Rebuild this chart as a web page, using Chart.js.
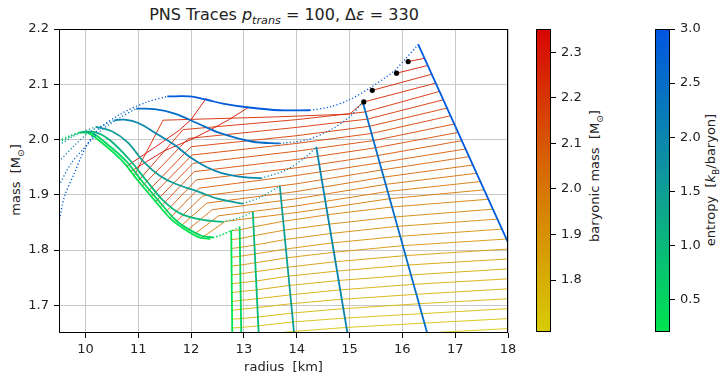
<!DOCTYPE html>
<html>
<head>
<meta charset="utf-8">
<script src="https://cdn.jsdelivr.net/npm/chart.js@4.4.1/dist/chart.umd.min.js"></script>
<style>
  body { margin: 0; background: #fff; width: 722px; height: 375px; position: relative; overflow: hidden;
         font-family: 'DejaVu Sans', sans-serif; color: #222; }
  canvas { position: absolute; top: 0; }
  .lbl { position: absolute; white-space: nowrap; font-size: 13px; transform: translate(-50%, -50%) rotate(-90deg); }
  #title { position: absolute; left: 284px; top: 5px; transform: translateX(-50%); font-size: 16px; white-space: nowrap; }
  sub { font-size: 70%; }
</style>
</head>
<body>
<div id="title">PNS Traces <i>p</i><sub><i>trans</i></sub> = 100, Δ<i>ε</i> = 330</div>
<div class="lbl" style="left:17px; top:180px">mass&nbsp;&nbsp;[M<sub>⊙</sub>]</div>
<div class="lbl" style="left:596px; top:176px">baryonic mass&nbsp;&nbsp;[M<sub>⊙</sub>]</div>
<div class="lbl" style="left:712px; top:180px">entropy&nbsp;&nbsp;[<i>k</i><sub>B</sub>/baryon]</div>
<canvas id="main" width="530" height="375" style="left:0"></canvas>
<canvas id="cbMass" width="60" height="375" style="left:536px"></canvas>
<canvas id="cbEntropy" width="60" height="375" style="left:655px"></canvas>
<script>
// axes
const xTicks = [10, 11, 12, 13, 14, 15, 16, 17, 18];
const yTicks = [1.7, 1.8, 1.9, 2.0, 2.1, 2.2];
const massTicks = [1.8, 1.9, 2.0, 2.1, 2.2, 2.3];
const entropyTicks = [0.5, 1.0, 1.5, 2.0, 2.5, 3.0];
const massRange = [1.686, 2.351];
const entropyRange = [0.2, 3.0];

// entropy tracks (top = highest entropy)
const trackEntropy = [2.9, 2.5, 2.0, 1.5, 1.0, 0.5, 0.2];
const trackDotLeft = [
  [[9.5,1.85],[9.6,1.896],[9.79,1.939],[10.0,1.985],[10.23,2.017],[10.68,2.047],[11.17,2.068],[11.55,2.078]],
  [[9.5,1.917],[9.73,1.957],[10.0,1.987],[10.3,2.017],[10.68,2.041],[10.96,2.056]],
  [[9.5,1.96],[9.8,1.99],[10.1,2.015],[10.55,2.035]],
  [[9.5,1.99],[9.75,2.005],[10.0,2.016],[10.2,2.023]],
  [[9.5,1.995],[9.75,2.007],[9.95,2.014]],
  [[9.5,1.997],[9.75,2.008],[9.92,2.013]],
  [[9.5,1.998],[9.75,2.009],[9.88,2.013]]
];
const trackSolid = [
  [[11.55,2.078],[11.97,2.078],[12.3,2.072],[12.6,2.065],[13.1,2.058],[13.68,2.053],[14.25,2.053]],
  [[10.96,2.056],[11.31,2.055],[11.69,2.047],[12.13,2.029],[12.57,2.011],[13.17,1.996],[13.68,1.993]],
  [[10.55,2.035],[10.74,2.036],[11.0,2.03],[11.34,2.011],[11.69,1.99],[11.97,1.969],[12.3,1.95],[12.6,1.939],[13.0,1.932],[13.33,1.93]],
  [[10.2,2.023],[10.5,2.015],[10.8,1.995],[11.1,1.96],[11.4,1.935],[11.7,1.92],[12.16,1.905],[12.5,1.893],[12.98,1.884]],
  [[9.95,2.014],[10.2,2.013],[10.45,2.0],[10.84,1.963],[11.16,1.925],[11.47,1.89],[11.8,1.866],[12.2,1.855],[12.6,1.851]],
  [[9.92,2.013],[10.12,2.012],[10.37,1.995],[10.75,1.963],[11.07,1.925],[11.38,1.89],[11.67,1.858],[11.88,1.842],[12.2,1.826],[12.42,1.823]],
  [[9.88,2.013],[10.05,2.012],[10.3,1.995],[10.68,1.963],[11.0,1.925],[11.31,1.89],[11.6,1.858],[11.81,1.842],[12.13,1.824],[12.35,1.82]]
];
const trackDotRight = [
  [[14.25,2.053],[14.63,2.059],[15.0,2.072],[15.38,2.093],[15.83,2.123],[16.05,2.145],[16.3,2.172]],
  [[13.68,1.993],[14.18,1.999],[14.63,2.017],[15.0,2.041],[15.25,2.068]],
  [[13.33,1.93],[13.8,1.945],[14.18,1.969],[14.37,1.987]],
  [[12.98,1.884],[13.3,1.895],[13.68,1.916]],
  [[12.6,1.851],[12.9,1.858],[13.17,1.869]],
  [[12.42,1.823],[12.7,1.832],[12.92,1.842]],
  [[12.35,1.82],[12.55,1.826],[12.76,1.836]]
];
const trackDrop = [
  [[16.3,2.172],[17.4,1.94],[18.0,1.814]],
  [[15.25,2.068],[16.47,1.65]],
  [[14.37,1.987],[14.96,1.65]],
  [[13.68,1.916],[13.95,1.65]],
  [[13.17,1.869],[13.28,1.65]],
  [[12.92,1.842],[12.95,1.65]],
  [[12.76,1.836],[12.78,1.65]]
];

// constant baryonic mass lines
const massValues = [2.34, 2.32, 2.30, 2.28, 2.26, 2.24, 2.22, 2.20, 2.18, 2.16, 2.14, 2.12, 2.10, 2.08,
  2.06, 2.04, 2.02, 2.00, 1.98, 1.96, 1.94, 1.92, 1.90, 1.88, 1.86, 1.84, 1.82, 1.80, 1.78, 1.76, 1.74, 1.72, 1.70];
const massLines = [
  [[10.77,1.951],[11.3,1.985],[11.78,2.017],[12.0,2.036],[12.29,2.075]],
  [[10.85,1.942],[11.5,1.98],[12.0,2.0],[12.35,2.017],[12.7,2.035],[13.1,2.059]],
  [[16.11,2.141],[16.42,2.147]],
  [[15.89,2.12],[16.48,2.134]],
  [[15.43,2.089],[16.55,2.118]],
  [[10.92,1.934],[11.47,2.035],[13.6,2.041],[15.0,2.046],[15.27,2.068],[16.63,2.102]],
  [[11.0,1.925],[11.85,2.018],[14.0,2.036],[15.30,2.05],[16.70,2.087]],
  [[11.08,1.916],[11.95,2.002],[14.0,2.022],[15.34,2.037],[16.78,2.072]],
  [[11.17,1.905],[12.0,1.987],[14.0,2.007],[15.38,2.024],[16.85,2.057]],
  [[11.25,1.897],[12.02,1.972],[14.0,1.993],[15.42,2.011],[16.91,2.043]],
  [[11.33,1.888],[12.04,1.957],[14.0,1.979],[15.45,1.998],[16.98,2.028]],
  [[11.42,1.878],[12.06,1.942],[14.0,1.964],[15.49,1.985],[17.06,2.013]],
  [[11.51,1.868],[12.1,1.927],[14.0,1.949],[15.53,1.971],[17.13,1.998]],
  [[11.6,1.858],[12.15,1.912],[14.0,1.935],[15.57,1.958],[17.2,1.983]],
  [[11.7,1.85],[12.22,1.898],[14.0,1.92],[15.61,1.945],[17.26,1.969]],
  [[11.8,1.843],[12.3,1.885],[14.0,1.906],[15.65,1.932],[17.34,1.954]],
  [[11.92,1.835],[12.4,1.873],[14.0,1.893],[15.69,1.919],[17.41,1.939]],
  [[12.05,1.828],[12.52,1.862],[14.0,1.88],[15.72,1.906],[17.48,1.924]],
  [[12.2,1.822],[12.65,1.852],[14.0,1.868],[15.76,1.893],[17.55,1.909]],
  [[12.77,1.835],[12.94,1.837],[13.18,1.842],[13.74,1.852],[14.59,1.864],[15.80,1.878],[17.63,1.892]],
  [[12.77,1.819],[12.94,1.821],[13.19,1.826],[13.76,1.836],[14.62,1.847],[15.86,1.860],[17.72,1.874]],
  [[12.77,1.803],[12.94,1.805],[13.20,1.809],[13.78,1.819],[14.64,1.830],[15.91,1.843],[17.80,1.856]],
  [[12.77,1.787],[12.94,1.789],[13.21,1.793],[13.80,1.802],[14.67,1.813],[15.96,1.825],[17.89,1.838]],
  [[12.77,1.771],[12.94,1.773],[13.22,1.777],[13.81,1.786],[14.70,1.796],[16.01,1.808],[17.97,1.820]],
  [[12.77,1.755],[12.94,1.757],[13.22,1.761],[13.83,1.769],[14.73,1.779],[16.06,1.790],[18,1.802]],
  [[12.77,1.739],[12.94,1.741],[13.23,1.744],[13.85,1.753],[14.76,1.762],[16.11,1.773],[18,1.784]],
  [[12.77,1.723],[12.94,1.725],[13.24,1.728],[13.86,1.736],[14.79,1.745],[16.16,1.755],[18,1.766]],
  [[12.77,1.707],[12.94,1.709],[13.25,1.712],[13.88,1.719],[14.82,1.728],[16.21,1.738],[18,1.748]],
  [[12.77,1.691],[12.94,1.693],[13.26,1.696],[13.90,1.703],[14.85,1.711],[16.27,1.720],[18,1.730]],
  [[12.77,1.675],[12.94,1.676],[13.27,1.679],[13.91,1.686],[14.88,1.694],[16.32,1.703],[18,1.712]],
  [[12.77,1.659],[12.94,1.660],[13.27,1.663],[13.93,1.670],[14.91,1.677],[16.37,1.685],[18,1.694]],
  [[12.77,1.643],[12.94,1.644],[13.28,1.647],[13.95,1.653],[14.94,1.660],[16.42,1.668],[18,1.676]],
  [[12.77,1.627],[12.94,1.628],[13.29,1.631],[13.96,1.636],[14.97,1.643],[16.47,1.650],[18,1.658]]
];

// black markers
const dotX = [15.27, 15.43, 15.89, 16.11];
const dotY = [2.068, 2.089, 2.12, 2.141];

// colour maps
const massStops = [[0, [215, 205, 5]], [0.47, [215, 118, 5]], [1, [215, 5, 0]]];
const entropyStops = [[0, [0, 228, 80]], [0.46, [15, 158, 148]], [1, [0, 85, 225]]];

function interp(stops, t) {
  t = Math.max(0, Math.min(1, t));
  for (let i = 1; i < stops.length; i++) {
    if (t <= stops[i][0]) {
      const [t0, c0] = stops[i - 1], [t1, c1] = stops[i];
      const f = (t - t0) / (t1 - t0);
      return c0.map((v, k) => Math.round(v + (c1[k] - v) * f));
    }
  }
  return stops[stops.length - 1][1];
}
const massColor = (v, a = 1) => { const c = interp(massStops, (v - massRange[0]) / (massRange[1] - massRange[0])); return `rgba(${c[0]},${c[1]},${c[2]},${a})`; };
const entropyColor = (v, a = 1) => { const c = interp(entropyStops, (v - entropyRange[0]) / (entropyRange[1] - entropyRange[0])); return `rgba(${c[0]},${c[1]},${c[2]},${a})`; };

const font = { family: 'DejaVu Sans', size: 13 };

// black box round the plot area, like matplotlib spines
const frame = {
  id: 'frame',
  afterDraw(chart) {
    const { ctx, chartArea: a } = chart;
    ctx.save();
    ctx.strokeStyle = '#000';
    ctx.lineWidth = 1;
    ctx.strokeRect(Math.round(a.left) + 0.5, Math.round(a.top) + 0.5, Math.round(a.right - a.left) - 1, Math.round(a.bottom - a.top) - 1);
    ctx.restore();
  }
};

function lineDs(pts, color, width, dash, order, tension = 0) {
  return {
    data: pts.map(p => ({ x: p[0], y: p[1] })),
    showLine: true, borderColor: color, borderWidth: width, borderDash: dash,
    pointRadius: 0, tension: tension, fill: false, order: order
  };
}

const datasets = [];
datasets.push({
  data: dotX.map((x, i) => ({ x: x, y: dotY[i] })),
  pointRadius: 2.6, backgroundColor: '#000', borderWidth: 0, order: 0
});
trackEntropy.forEach((s, i) => {
  const col = entropyColor(s);
  datasets.push(lineDs(trackDotLeft[i], col, 1.3, [1.2, 2.2], 1, 0.3));
  datasets.push(lineDs(trackSolid[i], col, 1.8, [], 1, 0.35));
  datasets.push(lineDs(trackDotRight[i], col, 1.3, [1.2, 2.2], 1, 0.3));
  datasets.push(lineDs(trackDrop[i], col, 1.8, [], 1));
});
massLines.forEach((pts, i) => datasets.push(lineDs(pts, massColor(massValues[i], 0.9), 1, [], 2)));

new Chart(document.getElementById('main'), {
  type: 'scatter',
  data: { datasets: datasets },
  options: {
    responsive: false,
    animation: false,
    layout: { padding: { top: 29, right: 22, bottom: 0, left: 0 } },
    plugins: { legend: { display: false }, tooltip: { enabled: false } },
    scales: {
      x: {
        type: 'linear', min: 9.5, max: 18,
        afterBuildTicks: s => { s.ticks = xTicks.map(v => ({ value: v })); },
        afterFit: s => { s.height = 42; },
        grid: { color: '#c8c8c8', lineWidth: 1, tickColor: '#000', tickLength: 5 },
        border: { display: false },
        ticks: { font: font, color: '#222', padding: 4, maxRotation: 0 },
        title: { display: true, text: 'radius  [km]', font: font, color: '#222', padding: 0 }
      },
      y: {
        type: 'linear', min: 1.65, max: 2.2,
        afterBuildTicks: s => { s.ticks = yTicks.map(v => ({ value: v })); },
        afterFit: s => { s.width = 59; },
        grid: { color: '#c8c8c8', lineWidth: 1, tickColor: '#000', tickLength: 5 },
        border: { display: false },
        ticks: { font: font, color: '#222', padding: 5, callback: v => v.toFixed(1) }
      }
    }
  },
  plugins: [frame]
});

function colorbar(id, range, ticks, colorFn) {
  new Chart(document.getElementById(id), {
    type: 'bar',
    data: {
      labels: [''],
      datasets: [{
        data: [range],
        barPercentage: 1, categoryPercentage: 1, borderWidth: 0,
        backgroundColor: c => {
          const a = c.chart.chartArea;
          if (!a) return 'transparent';
          const g = c.chart.ctx.createLinearGradient(0, a.bottom, 0, a.top);
          for (let k = 0; k <= 10; k++) g.addColorStop(k / 10, colorFn(range[0] + (range[1] - range[0]) * k / 10));
          return g;
        }
      }]
    },
    options: {
      responsive: false,
      animation: false,
      layout: { padding: { top: 29, bottom: 43, left: 0, right: 0 } },
      plugins: { legend: { display: false }, tooltip: { enabled: false } },
      scales: {
        x: { display: false },
        y: {
          position: 'right', min: range[0], max: range[1],
          afterBuildTicks: s => { s.ticks = ticks.map(v => ({ value: v })); },
          afterFit: s => { s.width = 45; },
          grid: { drawOnChartArea: false, tickColor: '#000', tickLength: 5 },
          border: { display: false },
          ticks: { font: font, color: '#222', padding: 5, callback: v => v.toFixed(1) }
        }
      }
    },
    plugins: [frame]
  });
}
colorbar('cbMass', massRange, massTicks, v => massColor(v));
colorbar('cbEntropy', entropyRange, entropyTicks, v => entropyColor(v));
</script>
</body>
</html>
